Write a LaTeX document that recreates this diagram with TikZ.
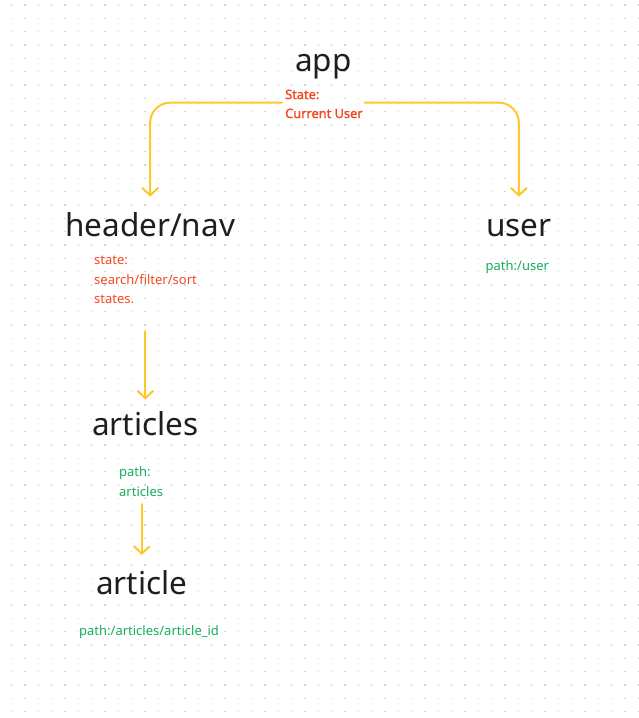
\documentclass[tikz,border=0pt]{standalone}
\usepackage{fontspec}
\setmainfont{Noto Sans}[AutoFakeBold=1.6]
\usetikzlibrary{arrows.meta}
\definecolor{ink}{HTML}{1E1E1E}
\definecolor{redt}{HTML}{F24822}
\definecolor{greent}{HTML}{14AE5C}
\definecolor{yell}{HTML}{FFC828}
\definecolor{dotc}{HTML}{D4D4D4}
\tikzset{
  big/.style={inner sep=0pt, anchor=base west, text=ink, font=\fontsize{31.5}{36}\selectfont},
  redlbl/.style={inner sep=0pt, anchor=base west, text=redt, align=left, font=\fontsize{13}{19.5}\selectfont},
  redbold/.style={inner sep=0pt, anchor=base west, text=redt, align=left, font=\fontsize{12.8}{19}\selectfont\bfseries},
  grnlbl/.style={inner sep=0pt, anchor=base west, text=greent, align=left, font=\fontsize{13}{19.5}\selectfont},
  conn/.style={draw=yell, line width=2pt, line cap=round, line join=round, -{Straight Barb[length=7.5pt,width=16pt,line width=2pt]}}
}
\begin{document}
\begin{tikzpicture}[x=1pt,y=-1pt]
\useasboundingbox (0,0) rectangle (638,718);
\fill[white] (0,0) rectangle (638,718);
% dot grid
\foreach \i in {0,...,47}{
  \foreach \j in {0,...,53}{
    \fill[dotc] ({11.1+13.333*\i},{4.4+13.333*\j}) rectangle ++(1.2,1.2);
  }
}
% nodes (multi-line nodes are placed by their last line's baseline)
\node[big] (app) at (295,71.7) {app};
\node[redbold] (appstate) at (285,118) {State:\\Current User};
\node[big] (header) at (65,236.7) {header/nav};
\node[big] (user) at (486,236.7) {user};
\node[redlbl] (headerstate) at (94,303.5) {state:\\search/filter/sort\\states.};
\node[grnlbl] (userpath) at (485.5,270) {path:/user};
\node[big] (articles) at (92,435.7) {articles};
\node[grnlbl] (articlespath) at (119,496) {path:\\articles};
\node[big] (article) at (96,594.3) {article};
\node[grnlbl] (articlepath) at (79,635.3) {path:/articles/article\_id};
% connectors
\draw[conn, rounded corners=20pt] ([xshift=-3pt]appstate.west |- 0,102.7) -| (header.north |- 0,196.7);
\draw[conn, rounded corners=20pt] ([xshift=2pt]appstate.east |- 0,102.7) -| (user.north |- 0,196.7);
\draw[conn] (articles.north |- 0,331) -- (articles.north |- 0,399.5);
\draw[conn] (article.north |- 0,504) -- (article.north |- 0,555);
\end{tikzpicture}
\end{document}
